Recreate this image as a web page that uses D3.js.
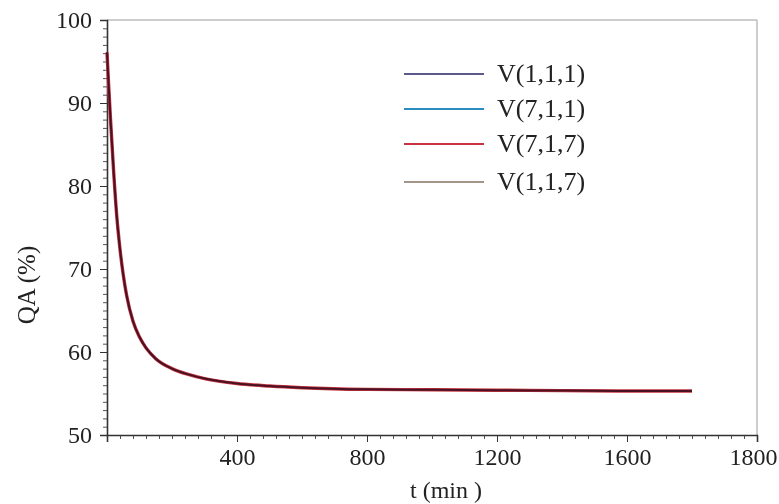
<!DOCTYPE html>
<html>
<head>
<meta charset="utf-8">
<script src="https://cdn.jsdelivr.net/npm/d3@7"></script>
<style>
  body { margin: 0; background: #fff; }
  svg text { font-family: "Liberation Serif", "Times New Roman", Tinos, serif !important; fill: #222; }
</style>
</head>
<body>
<svg id="chart" width="779" height="504"></svg>
<script>
// Time points (min) and quantum yield QA (%) for each voxel
const time   = [0, 5, 10, 20, 30, 40, 50, 60, 80, 100, 120, 150, 200, 250, 300, 400, 500, 600, 800, 1000, 1200, 1400, 1600, 1800];
const qa111  = [96.1, 92.2, 88.6, 82.0, 76.4, 72.4, 69.3, 66.9, 63.7, 61.8, 60.5, 59.2, 58.0, 57.3, 56.8, 56.2, 55.9, 55.7, 55.5, 55.45, 55.4, 55.35, 55.3, 55.3];
const qa711  = [96.1, 92.2, 88.6, 82.0, 76.4, 72.4, 69.3, 66.9, 63.7, 61.8, 60.5, 59.2, 58.0, 57.3, 56.8, 56.2, 55.9, 55.7, 55.5, 55.45, 55.4, 55.35, 55.3, 55.3];
const qa717  = [96.1, 92.2, 88.6, 82.0, 76.4, 72.4, 69.3, 66.9, 63.7, 61.8, 60.5, 59.2, 58.0, 57.3, 56.8, 56.2, 55.9, 55.7, 55.5, 55.45, 55.4, 55.35, 55.3, 55.3];
const qa117  = [96.1, 92.2, 88.6, 82.0, 76.4, 72.4, 69.3, 66.9, 63.7, 61.8, 60.5, 59.2, 58.0, 57.3, 56.8, 56.2, 55.9, 55.7, 55.5, 55.45, 55.4, 55.35, 55.3, 55.3];

const seriesNames = ["V(1,1,1)", "V(7,1,1)", "V(7,1,7)", "V(1,1,7)"];
const seriesColors = ["#5b5a8c", "#2b8cc0", "#c9323e", "#a4978a"];

// Axis ticks
const xTickValues = [400, 800, 1200, 1600, 2000];
const xTickLabels = ["400", "800", "1200", "1600", "1800"];
const yTickValues = [50, 60, 70, 80, 90, 100];

const serif = "'Liberation Serif', 'Times New Roman', Tinos, serif";
const svg = d3.select("#chart");
const plotLeft = 107, plotRight = 757, plotTop = 20, plotBottom = 435;

const x = d3.scaleLinear().domain([0, 2000]).range([plotLeft, plotRight]);
const y = d3.scaleLinear().domain([50, 100]).range([plotBottom, plotTop]);

// Frame: light top and right borders
svg.append("line").attr("x1", plotLeft).attr("x2", plotRight).attr("y1", plotTop).attr("y2", plotTop)
  .attr("stroke", "#bdbdbd").attr("stroke-width", 1.5);
svg.append("line").attr("x1", plotRight).attr("x2", plotRight).attr("y1", plotTop).attr("y2", plotBottom)
  .attr("stroke", "#bdbdbd").attr("stroke-width", 1.5);

// Minor ticks
const xMinor = d3.axisBottom(x).tickValues(d3.range(0, 2001, 40)).tickSize(4).tickFormat("");
const yMinor = d3.axisLeft(y).tickValues(d3.range(50, 101, 1)).tickSize(4).tickFormat("");
svg.append("g").attr("transform", `translate(0,${plotBottom})`).call(xMinor)
  .call(g => g.selectAll("line,path").attr("stroke", "#555"));
svg.append("g").attr("transform", `translate(${plotLeft},0)`).call(yMinor)
  .call(g => g.selectAll("line,path").attr("stroke", "#555"));

// Major ticks and labels
const xAxis = d3.axisBottom(x).tickValues([0].concat(xTickValues)).tickSize(7).tickPadding(6)
  .tickFormat(d => d === 0 ? "" : xTickLabels[xTickValues.indexOf(d)]);
const yAxis = d3.axisLeft(y).tickValues(yTickValues).tickSize(7).tickPadding(8);

svg.append("g").attr("transform", `translate(0,${plotBottom})`).call(xAxis)
  .attr("font-family", serif)
  .call(g => g.select(".domain").attr("stroke", "#333").attr("stroke-width", 1.6))
  .call(g => g.selectAll("line").attr("stroke", "#333"))
  .call(g => g.selectAll("text").attr("font-size", 24).attr("fill", "#222"))
  // keep the last label inside the page edge
  .call(g => g.selectAll(".tick").filter(d => d === 2000).select("text").attr("dx", -4));
svg.append("g").attr("transform", `translate(${plotLeft},0)`).call(yAxis)
  .attr("font-family", serif)
  .call(g => g.select(".domain").attr("stroke", "#333").attr("stroke-width", 1.6))
  .call(g => g.selectAll("line").attr("stroke", "#333"))
  .call(g => g.selectAll("text").attr("font-size", 24).attr("fill", "#222"));

// Axis titles
svg.append("text").attr("x", 446).attr("y", 498).attr("text-anchor", "middle")
  .attr("font-family", serif).attr("font-size", 24).text("t (min )");
svg.append("text").attr("transform", "translate(35,285) rotate(-90)").attr("text-anchor", "middle")
  .attr("font-family", serif).attr("font-size", 25).text("QA (%)");

// Curves: the four runs overlap almost exactly
const line = d3.line().x((d, i) => x(time[i])).y(d => y(d)).curve(d3.curveMonotoneX);
const allSeries = [qa111, qa711, qa717, qa117];
const drawOrder = [3, 1, 2, 0];
const widths = [2, 2, 3.4, 2];
drawOrder.forEach(k => {
  svg.append("path").datum(allSeries[k]).attr("d", line)
    .attr("fill", "none").attr("stroke", seriesColors[k]).attr("stroke-width", widths[k])
    .style("mix-blend-mode", k === 0 ? "multiply" : "normal");
});

// Legend
const legendY = [74, 109, 144, 182];
const lg = svg.append("g");
seriesNames.forEach((name, i) => {
  lg.append("line").attr("x1", 404).attr("x2", 484).attr("y1", legendY[i]).attr("y2", legendY[i])
    .attr("stroke", seriesColors[i]).attr("stroke-width", 2);
  lg.append("text").attr("x", 497).attr("y", legendY[i] + 8)
    .attr("font-family", serif).attr("font-size", 26).text(name);
});
</script>
</body>
</html>
